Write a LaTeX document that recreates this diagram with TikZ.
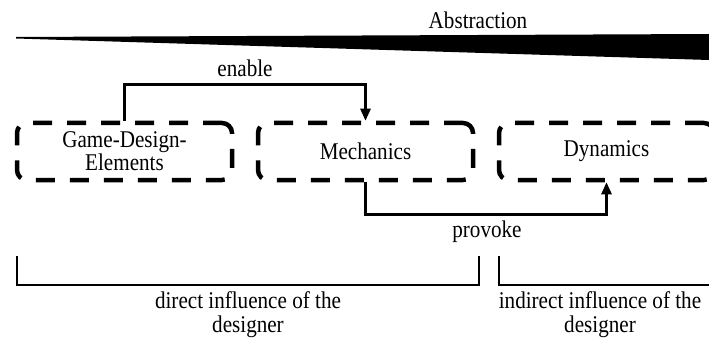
\documentclass[tikz,border=0pt]{standalone}
\usepackage{fontspec}
\setmainfont{Liberation Serif}[FakeStretch=0.88]
\usetikzlibrary{arrows.meta}
\begin{document}
\begin{tikzpicture}[x=1pt,y=-1pt,
  lbl/.style={font=\rmfamily\fontsize{24}{24}\selectfont, inner sep=0pt, align=center},
  phase/.style={draw, line width=4.5pt, dash pattern=on 19pt off 15pt,
    rounded corners=10pt, minimum width=215pt, minimum height=57pt,
    inner sep=0pt, align=center, font=\rmfamily\fontsize{24}{23}\selectfont},
  conn/.style={line width=2.5pt, -{Triangle[length=12pt,width=10pt]}},
  bracket/.style={line width=2.5pt}]
\useasboundingbox (0,0) rectangle (709,342);
\clip (0,0) rectangle (709,342);

% abstraction wedge
\fill (16,37) -- (709,34) -- (709,60) -- (16,38.5) -- cycle;
\node[lbl] (abs) at (478,20) {Abstraction};

% the three stages
\node[phase] (gde)  at (124.5,151.5) {Game-Design-\\Elements};
\node[phase] (mech) at (365.5,151.5) {Mechanics};
\node[phase] (dyn)  at (606.5,151.5) {Dynamics};

% relations
\draw[conn] (gde.north) -- ++(0,-36) -| (mech.north);
\node[lbl] (enable) at (245,68) {enable};
\draw[conn] (mech.south) -- ++(0,32) -| (dyn.south);
\node[lbl] (provoke) at (487,232) {provoke};

% scope of influence
\draw[bracket] (17,256) -- (17,285) -- (479,285) -- (479,256);
\draw[bracket] (499,256) -- (499,285) -- (712,285);
\node[lbl] (direct) at (248,315) {direct influence of the\\designer};
\node[lbl] (indirect) at (600,315) {indirect influence of the\\designer};
\end{tikzpicture}
\end{document}
